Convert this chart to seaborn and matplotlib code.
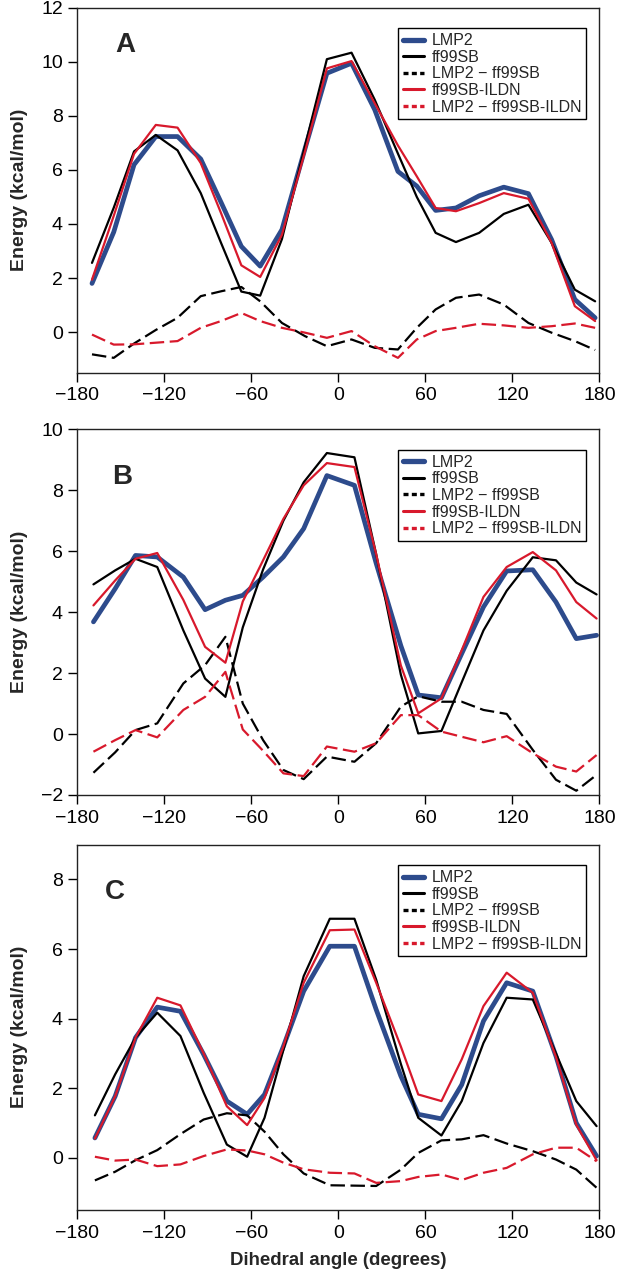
# Perfis de energia torsional: LMP2 x ff99SB x ff99SB-ILDN (três painéis)
import seaborn as sns
import matplotlib.pyplot as plt
from matplotlib.lines import Line2D

# Dados
## Painel A
ang_a = [-170, -155, -141, -126, -111, -95, -81, -67, -54, -39, -23, -8,
         9, 25, 41, 54, 67, 81, 97, 114, 131, 147, 163, 177]
lmp2_a = [1.80, 3.7, 6.19, 7.23, 7.23, 6.40, 4.8, 3.17, 2.44, 3.79, 6.8, 9.57,
          9.94, 8.22, 5.94, 5.4, 4.50, 4.59, 5.04, 5.36, 5.12, 3.42, 1.21, 0.53]
ff99_a = [2.56, 4.6, 6.68, 7.29, 6.72, 5.14, 3.3, 1.5, 1.35, 3.44, 6.9, 10.09,
          10.33, 8.59, 6.6, 5.0, 3.67, 3.33, 3.67, 4.37, 4.71, 3.3, 1.57, 1.14]
dif_ff99_a = [-0.82, -0.95, -0.42, 0.08, 0.53, 1.33, 1.51, 1.67, 1.14, 0.34, -0.15, -0.52,
              -0.27, -0.58, -0.64, 0.16, 0.84, 1.27, 1.39, 1.02, 0.34, -0.02, -0.33, -0.66]
ildn_a = [1.94, 4.3, 6.59, 7.66, 7.56, 6.25, 4.4, 2.47, 2.04, 3.6, 6.7, 9.75,
          10.02, 8.46, 6.9, 5.76, 4.59, 4.47, 4.77, 5.14, 4.93, 3.3, 0.96, 0.41]
dif_ildn_a = [-0.09, -0.46, -0.45, -0.39, -0.33, 0.16, 0.41, 0.71, 0.41, 0.16, -0.02, -0.21,
              0.04, -0.52, -0.95, -0.27, 0.04, 0.16, 0.31, 0.25, 0.16, 0.22, 0.32, 0.16]

## Painel B
ang_b = [-169, -154, -140, -125, -107, -92, -78, -66, -52, -38, -24, -8,
         11, 26, 43, 55, 71, 85, 100, 116, 134, 150, 164, 178]
lmp2_b = [3.68, 4.77, 5.86, 5.81, 5.15, 4.08, 4.39, 4.55, 5.15, 5.81, 6.74, 8.48,
          8.16, 5.6, 2.9, 1.28, 1.19, 2.64, 4.17, 5.35, 5.39, 4.33, 3.13, 3.24]
ff99_b = [4.91, 5.37, 5.75, 5.48, 3.4, 1.82, 1.22, 3.5, 5.4, 7.0, 8.26, 9.22,
          9.08, 5.9, 1.95, 0.02, 0.1, 1.7, 3.4, 4.7, 5.8, 5.7, 4.97, 4.58]
dif_ff99_b = [-1.27, -0.6, 0.13, 0.35, 1.66, 2.26, 3.19, 1.0, -0.2, -1.18, -1.48, -0.74,
              -0.91, -0.3, 0.9, 1.24, 1.06, 1.06, 0.79, 0.66, -0.52, -1.5, -1.86, -1.34]
ildn_b = [4.22, 5.04, 5.75, 5.94, 4.4, 2.86, 2.34, 4.35, 5.7, 7.06, 8.16, 8.89,
          8.76, 5.9, 2.25, 0.68, 1.17, 2.75, 4.5, 5.48, 5.97, 5.37, 4.33, 3.79]
dif_ildn_b = [-0.58, -0.2, 0.13, -0.11, 0.79, 1.22, 2.04, 0.15, -0.55, -1.29, -1.38, -0.41,
              -0.58, -0.3, 0.62, 0.62, 0.08, -0.09, -0.27, -0.07, -0.63, -1.07, -1.23, -0.69]

## Painel C
ang_c = [-168, -154, -140, -125, -109, -93, -77, -63, -51, -38, -24, -6,
         11, 26, 43, 55, 71, 85, 100, 116, 134, 150, 164, 178]
lmp2_c = [0.57, 1.77, 3.45, 4.33, 4.21, 2.97, 1.63, 1.25, 1.82, 3.2, 4.79, 6.08,
          6.08, 4.26, 2.35, 1.25, 1.12, 2.1, 3.93, 5.03, 4.79, 2.92, 1.0, 0.05]
ff99_c = [1.22, 2.4, 3.45, 4.17, 3.5, 1.87, 0.38, 0.03, 1.15, 3.1, 5.22, 6.87,
          6.87, 5.12, 2.7, 1.15, 0.64, 1.63, 3.3, 4.6, 4.55, 3.0, 1.63, 0.91]
dif_ff99_c = [-0.65, -0.4, -0.07, 0.22, 0.68, 1.1, 1.28, 1.22, 0.75, 0.1, -0.45, -0.79,
              -0.8, -0.81, -0.34, 0.14, 0.5, 0.53, 0.65, 0.41, 0.19, -0.05, -0.34, -0.86]
ildn_c = [0.55, 1.77, 3.45, 4.6, 4.38, 3.0, 1.48, 0.94, 1.72, 3.2, 5.03, 6.54,
          6.56, 5.03, 3.2, 1.82, 1.63, 2.83, 4.36, 5.32, 4.74, 2.9, 0.95, -0.07]
dif_ildn_c = [0.03, -0.08, -0.05, -0.24, -0.19, 0.05, 0.24, 0.21, 0.1, -0.14, -0.33, -0.43,
              -0.45, -0.72, -0.67, -0.55, -0.48, -0.64, -0.43, -0.29, 0.1, 0.29, 0.29, -0.1]

rotulos = ['LMP2', 'ff99SB', 'LMP2 \u2212 ff99SB', 'ff99SB-ILDN', 'LMP2 \u2212 ff99SB-ILDN']

# Estilo
sns.set_style('ticks')
plt.rcParams['font.family'] = ['Liberation Sans', 'DejaVu Sans']

azul = '#2d4b8c'
vermelho = '#d8192c'
tracejado = (0, (6.5, 2.5))
estilos = [
    dict(color=azul, linewidth=3.4, linestyle='-'),
    dict(color='black', linewidth=1.6, linestyle='-'),
    dict(color='black', linewidth=1.6, linestyle=tracejado),
    dict(color=vermelho, linewidth=1.6, linestyle='-'),
    dict(color=vermelho, linewidth=1.6, linestyle=tracejado),
]

paineis = [
    ('A', ang_a, [lmp2_a, ff99_a, dif_ff99_a, ildn_a, dif_ildn_a], (-1.5, 12), range(0, 13, 2), (0.072, 0.897)),
    ('B', ang_b, [lmp2_b, ff99_b, dif_ff99_b, ildn_b, dif_ildn_b], (-2, 10), range(-2, 11, 2), (0.066, 0.870)),
    ('C', ang_c, [lmp2_c, ff99_c, dif_ff99_c, ildn_c, dif_ildn_c], (-1.5, 9), range(0, 9, 2), (0.053, 0.869)),
]
posicoes = [[0.1256, 0.7072, 0.846, 0.2869],
            [0.1256, 0.3755, 0.846, 0.2873],
            [0.1256, 0.0495, 0.846, 0.2870]]

fig = plt.figure(figsize=(6.17, 12.73), dpi=100)

## Legenda (traços curtos, como no original)
handles = [
    Line2D([], [], color=azul, lw=3.8),
    Line2D([], [], color='black', lw=2.2),
    Line2D([], [], color='black', lw=2.4, linestyle=(0, (1.5, 1.0))),
    Line2D([], [], color=vermelho, lw=2.2),
    Line2D([], [], color=vermelho, lw=2.4, linestyle=(0, (1.5, 1.0))),
]

for (letra, ang, series, ylim, yticks, pos_letra), pos in zip(paineis, posicoes):
    ax = fig.add_axes(pos)
    for vals, est in zip(series, estilos):
        sns.lineplot(x=ang, y=vals, ax=ax, sort=False, legend=False, **est)

    ax.set_xlim(-180, 180)
    ax.set_ylim(*ylim)
    ax.set_xticks(range(-180, 181, 60))
    ax.set_yticks(list(yticks))
    ax.tick_params(direction='out', length=6.5, width=1, labelsize=14, pad=4, colors='black')
    for sp in ax.spines.values():
        sp.set_visible(True)
        sp.set_linewidth(1.0)
        sp.set_color('#222222')

    ax.set_ylabel('Energy (kcal/mol)', fontsize=14, fontweight='bold')
    ax.yaxis.set_label_coords(-0.095, 0.5)
    ax.set_xlabel('')

    ax.text(pos_letra[0], pos_letra[1], letra, transform=ax.transAxes,
            fontsize=20, fontweight='bold', ha='left', va='center')

    leg = ax.legend(handles, rotulos, loc='upper right', bbox_to_anchor=(0.974, 0.943),
                    borderaxespad=0, fontsize=11.5, frameon=True, fancybox=False,
                    handlelength=1.3, handletextpad=0.5, labelspacing=0.1,
                    borderpad=0.3)
    leg.get_frame().set_edgecolor('black')
    leg.get_frame().set_linewidth(1.0)
    leg.get_frame().set_alpha(1)

ax.set_xlabel('Dihedral angle (degrees)', fontsize=13.4, fontweight='bold')
ax.xaxis.set_label_coords(0.5, -0.115)

plt.savefig('out.png', dpi=100)
